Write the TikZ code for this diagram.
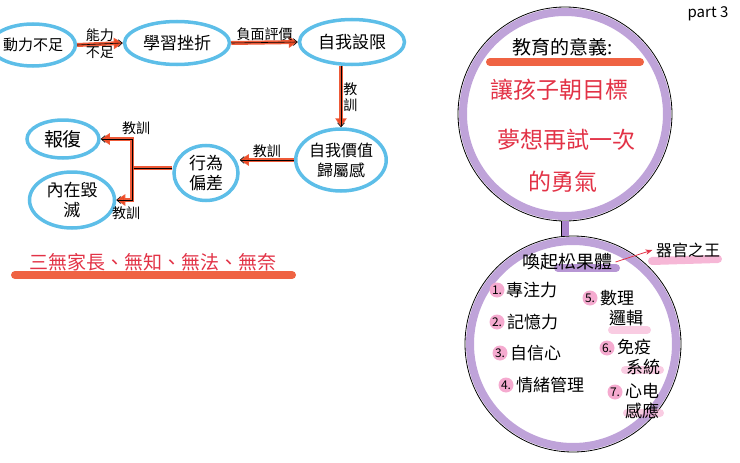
\documentclass[tikz,border=0pt]{standalone}
\usepackage{fontspec}
\newfontfamily\cjk{Noto Sans CJK TC}
\usepackage{tikz}
\usetikzlibrary{arrows.meta,shapes.geometric}
\definecolor{skyblue}{RGB}{93,190,232}
\definecolor{redorange}{RGB}{236,72,34}
\definecolor{lavender}{RGB}{170,132,204}
\definecolor{pinkred}{RGB}{226,50,70}
\definecolor{pinkmark}{RGB}{245,170,207}

\begin{document}
\begin{tikzpicture}[auto,x=1pt,y=-1pt]
    \tikzstyle{bubble}=[ellipse,draw=skyblue,line width=3.5pt,inner sep=0pt,align=center,font=\cjk\fontsize{17}{20}\selectfont]
    \tikzstyle{flow}=[semithick,black,-{Straight Barb[length=4pt,width=7pt]},preaction={draw=redorange,line width=4pt,opacity=0.9,-{Triangle[length=9pt,width=11pt]}}]
    \tikzstyle{trunk}=[semithick,black,preaction={draw=redorange,line width=4pt,opacity=0.9}]
    \tikzstyle{note}=[font=\cjk\fontsize{14}{16}\selectfont,inner sep=2pt]
    \tikzstyle{lens}=[circle,draw=black,line width=0.8pt,minimum size=214pt,inner sep=0pt]
    \tikzstyle{band}=[draw=lavender,line width=8pt,opacity=0.75]
    \tikzstyle{handle}=[draw=black,line width=0.6pt,double=lavender,double distance=7pt]
    \tikzstyle{redtext}=[text=pinkred,font=\cjk\fontsize{23}{25}\selectfont]
    \tikzstyle{marker}=[circle,fill=pinkmark,inner sep=0pt,minimum size=15pt,font=\cjk\fontsize{12}{14}\selectfont]
    \tikzstyle{entry}=[anchor=west,align=left,inner sep=1pt,font=\cjk\fontsize{17}{20}\selectfont]
    \tikzstyle{stroke}=[line width=8pt,line cap=round,opacity=0.85]
    \useasboundingbox (0,0) rectangle (740,463);
    \node (dong) at (33,45)  [bubble,minimum width=84pt,minimum height=42pt,font=\cjk\fontsize{15}{18}\selectfont] {動力不足};
    \node (xue)  at (177,43) [bubble,minimum width=105pt,minimum height=43pt] {學習挫折};
    \node (zi)   at (352,42) [bubble,minimum width=105pt,minimum height=45pt] {自我設限};
    \node (jia)  at (341,160) [bubble,minimum width=88pt,minimum height=62pt,font=\cjk\fontsize{16}{20}\selectfont] {自我價值\\歸屬感};
    \node (xing) at (206,173) [bubble,minimum width=64pt,minimum height=55pt] {行為\\偏差};
    \node (bao)  at (63,139) [bubble,minimum width=72pt,minimum height=38pt,font=\cjk\fontsize{19}{21}\selectfont] {報復};
    \node (nei)  at (72,200) [bubble,minimum width=85pt,minimum height=56pt] {內在毀\\滅};
    \coordinate (fork) at (132,168);
    \draw [flow] (dong.east) -- (xue.west) node [midway,above,note] {能力} node [midway,below,note] {不足};
    \draw [flow] (xue.east) -- (zi.west) node [midway,above,note] {負面評價};
    \draw [flow] (zi.south -| jia) -- (jia.north) node [midway,right,note,align=center] {教\\訓};
    \draw [flow] (jia.west) -- (jia.west -| xing.east) node [midway,above,note] {教訓};
    \draw [trunk] (fork -| xing.west) -- (fork);
    \draw [flow] (fork) |- (bao.east) node [pos=0.5,above,xshift=4pt,yshift=2pt,note] {教訓};
    \draw [flow] (fork) |- (nei.east) node [pos=0.5,below,xshift=-6pt,yshift=-4pt,note] {教訓};
    \draw [stroke,redorange] (15,275) -- (292,275);
    \node (sanwu) at (153,262) [text=pinkred,font=\cjk\fontsize{19}{21}\selectfont] {三無家長、無知、無法、無奈};
    \node (part) at (708,14) [font=\cjk\fontsize{15}{17}\selectfont] {part 3};
    \node (meaning) at (565,114) [lens] {};
    \draw [band] (meaning.center) circle [radius=102pt];
    \node (body) at (573,344) [lens,minimum size=216pt] {};
    \draw [band] (body.center) circle [radius=103pt];
    \draw [handle] (meaning.south) -- (meaning.south |- body.north);
    \draw [stroke,redorange] (490,62) -- (640,62);
    \node (title) at (563,47) [font=\cjk\fontsize{19}{21}\selectfont] {教育的意義:};
    \node (line1) at (559,90)  [redtext] {讓孩子朝目標};
    \node (line2) at (566,140) [redtext] {夢想再試一次};
    \node (line3) at (563,182) [redtext] {的勇氣};
    \draw [stroke,lavender] (558,268) -- (616,268);
    \draw [stroke,pinkmark] (652,261) -- (718,259);
    \node (pineal) at (567,262) [font=\cjk\fontsize{18}{20}\selectfont] {喚起松果體};
    \node (king) at (688,250) [font=\cjk\fontsize{16}{18}\selectfont] {器官之王};
    \draw [thick,pinkred,-{Stealth[length=7pt]}] (pineal.east) -- (king.west);
    \draw [stroke,pinkmark,opacity=0.6] (612,330) -- (647,330);
    \draw [stroke,pinkmark,opacity=0.6] (625,370) -- (660,370);
    \draw [stroke,pinkmark,opacity=0.6] (627,413) -- (660,413);
    \node (m1) at (497,290) [marker] {1.};
    \node (e1) at (505,290) [entry] {專注力};
    \node (m2) at (497,322) [marker] {2.};
    \node (e2) at (506,322) [entry] {記憶力};
    \node (m3) at (500,353) [marker] {3.};
    \node (e3) at (509,353) [entry] {自信心};
    \node (m4) at (506,385) [marker] {4.};
    \node (e4) at (515,385) [entry] {情緒管理};
    \node (m5) at (590,298) [marker] {5.};
    \node (e5) at (599,308) [entry] {數理\\\hspace*{9pt}邏輯};
    \node (m6) at (607,348) [marker] {6.};
    \node (e6) at (616,357) [entry] {免疫\\\hspace*{9pt}系統};
    \node (m7) at (615,392) [marker] {7.};
    \node (e7) at (624,401) [entry] {心电\\感應};
\end{tikzpicture}
\end{document}
